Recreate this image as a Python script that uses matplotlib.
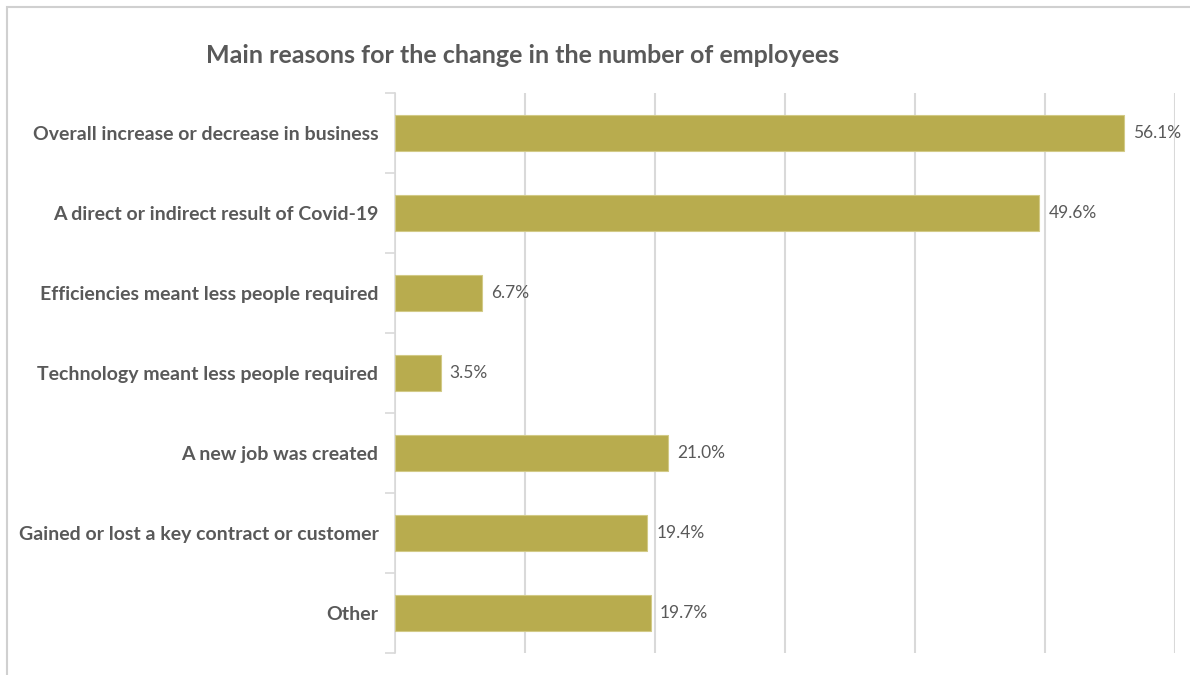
import matplotlib.pyplot as plt
from matplotlib.patches import Rectangle

# Survey answers, top to bottom
reasons = [
    "Overall increase or decrease in business",
    "A direct or indirect result of Covid-19",
    "Efficiencies meant less people required",
    "Technology meant less people required",
    "A new job was created",
    "Gained or lost a key contract or customer",
    "Other",
]
shares = [56.1, 49.6, 6.7, 3.5, 21.0, 19.4, 19.7]

bar_color = "#B8AC4E"
text_color = "#595959"
grid_color = "#D9D9D9"

plt.rcParams["font.family"] = ["Lato", "DejaVu Sans"]

fig = plt.figure(figsize=(11.9, 6.75), dpi=100)
ax = fig.add_axes([0.332, 0.033, 0.655, 0.829])

y = list(range(len(reasons)))
ax.barh(y, shares, height=0.45, color=bar_color, edgecolor="#D2CA86", linewidth=0.8, zorder=3)

for yi, v in zip(y, shares):
    ax.text(v + 0.7, yi, f"{v:.1f}%", va="center", ha="left",
            fontsize=12.5, color=text_color, zorder=4)

ax.set_xlim(0, 60)
ax.set_ylim(len(reasons) - 0.5, -0.5)
ax.set_xticks(range(0, 61, 10))
ax.xaxis.grid(True, color=grid_color, linewidth=1.5, zorder=0)
ax.tick_params(axis="x", length=0, labelbottom=False)

# category labels centred on bars, tick marks on the boundaries
ax.set_yticks(y)
ax.set_yticklabels(reasons, fontsize=14, fontweight="bold", color=text_color)
ax.tick_params(axis="y", which="major", length=0, pad=12)
ax.set_yticks([i - 0.5 for i in range(len(reasons) + 1)], minor=True)
ax.tick_params(axis="y", which="minor", length=7, color=grid_color, width=1.2)

for side in ["top", "right", "bottom"]:
    ax.spines[side].set_visible(False)
ax.spines["left"].set_color(grid_color)
ax.spines["left"].set_linewidth(1.2)

fig.text(0.439, 0.918, "Main reasons for the change in the number of employees",
         ha="center", va="center", fontsize=18, fontweight="bold", color=text_color)

# light frame around the chart area
fig.patches.append(Rectangle((7 / 1190, -0.01), 1.02, 1 - 7 / 675 + 0.01,
                             transform=fig.transFigure, fill=False,
                             edgecolor="#D0D0D0", linewidth=1.5))

fig.savefig("out.png", dpi=100)
